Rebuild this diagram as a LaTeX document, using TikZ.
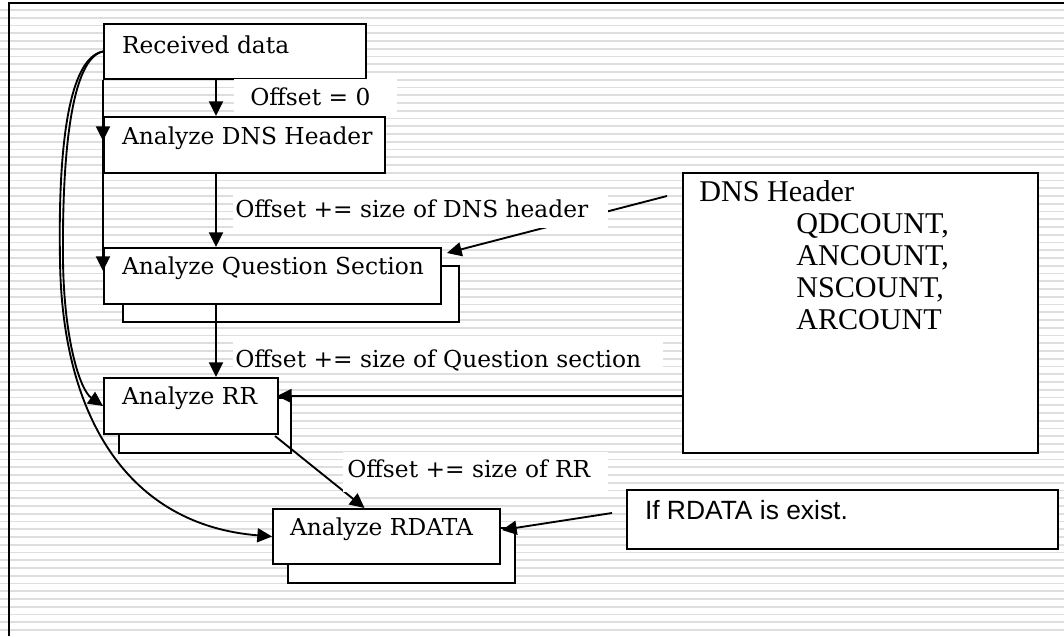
\documentclass[tikz,border=0pt]{standalone}
\usepackage{fontspec}
\setmainfont{DejaVu Serif}
\newfontfamily\timesf{Liberation Serif}
\newfontfamily\arialf{Liberation Sans}
\usetikzlibrary{arrows.meta,calc}
\newcommand{\lbox}[2]{\makebox[#1][l]{#2}}
\begin{document}
\begin{tikzpicture}[x=0.75pt,y=-0.75pt,
  stripe/.style={draw=black!13, line width=1.2pt},
  frameline/.style={line width=1.5pt},
  mainfont/.style={font=\fontsize{17.5}{21}\selectfont},
  box/.style={draw, fill=white, line width=1.5pt, anchor=north west, inner ysep=0pt, inner xsep=13.5pt, mainfont},
  shadowbox/.style={draw, fill=white, line width=1.2pt, anchor=north west, inner sep=0pt},
  arr/.style={line width=1.4pt, -{Triangle[length=11pt,width=10.5pt]}},
  lbl/.style={anchor=base west, inner sep=0pt, mainfont},
  infotext/.style={anchor=base west, inner sep=0pt, font=\timesf\fontsize{22.6}{24}\selectfont},
]
\useasboundingbox (0,0) rectangle (1064,636);
\fill[white] (0,0) rectangle (1064,636);
\foreach \i in {0,...,81} {
  \draw[stripe] (0,{10+7.75*\i}) -- (1064,{10+7.75*\i});
}
% frame
\draw[frameline] (9,636) -- (9,3) -- (1064,3);

% shadow boxes
\node[shadowbox, minimum width=252pt, minimum height=42pt] (qs2) at (122,265) {};
\node[shadowbox, minimum width=129pt, minimum height=41.25pt] (rr2) at (118,397) {};
\node[shadowbox, minimum width=170.25pt, minimum height=41.25pt] (ra2) at (287,527) {};

% main boxes
\node[box, text height=21.75pt, text depth=19.5pt] (rd) at (103,23) {\lbox{169.5pt}{Received data}};
\node[box, text height=20.25pt, text depth=21.75pt] (dh) at (103,116) {\lbox{183.75pt}{Analyze DNS Header}};
\node[box, text height=19.5pt, text depth=22.5pt] (qs) at (103,247) {\lbox{225.75pt}{Analyze Question Section}};
\node[box, text height=19.5pt, text depth=22.5pt] (rr) at (103,377) {\lbox{103.5pt}{Analyze RR}};
\node[box, text height=19.5pt, text depth=21.75pt, inner xsep=12.75pt] (ra) at (272,508) {\lbox{144.75pt}{Analyze RDATA}};

% DNS header info box
\node[draw, fill=white, line width=1.5pt, anchor=north west, minimum width=266.25pt, minimum height=210pt, inner sep=0pt] (info) at (682,172) {};
\node[infotext] (t0) at (699,201) {DNS Header};
\node[infotext] (t1) at (796,233) {QDCOUNT,};
\node[infotext] (t2) at (796,265) {ANCOUNT,};
\node[infotext] (t3) at (796,297) {NSCOUNT,};
\node[infotext] (t4) at (796,329) {ARCOUNT};

% If RDATA box
\node[box, text height=21.75pt, text depth=22.5pt, font=\arialf\fontsize{19.8}{22}\selectfont] (ifb) at (626,489) {\lbox{296.25pt}{If RDATA is exist.}};

% connectors
\coordinate (cx) at (216,0);
\draw[arr] (rd.south -| cx) -- (dh.north -| cx);
\draw[arr] (dh.south -| cx) -- (qs.north -| cx);
\draw[arr] (qs.south -| cx) -- (rr.north -| cx);
\draw[arr] ($(rr.south east)+(-4,1)$) -- ($(ra.north)+(-22,0)$);

\draw[arr] (rd.south west) -- ($(dh.north west)+(0,25)$);
\draw[arr] (rd.south west) -- ($(qs.north west)+(0,24)$);

\draw[arr] (rd.west) .. controls (72,58) and (62,150) .. (63,260)
  .. controls (64,340) and (80,390) .. (rr.west);
\draw[arr] (rd.west) .. controls (68,58) and (58,150) .. (60,260)
  .. controls (62,420) and (130,525) .. (ra.west);

\coordinate (i1) at (667,196);
\draw[arr] (i1) -- ($(qs.north east)+(5,6)$);
\draw[arr] (info.west |- 0,396) -- ($(rr.north east)+(-2,19)$);
\coordinate (i2) at (612,513);
\draw[arr] (i2) -- ($(ra.north east)+(1,22)$);

% labels
\fill[white] (234,79) rectangle (397,113);
\node[lbl] (l0) at (250,105) {Offset = 0};
\fill[white] (233,193) rectangle (608,228);
\node[lbl] (l1) at (235,217) {Offset += size of DNS header};
\fill[white] (233,342) rectangle (663,373);
\node[lbl] (l2) at (235,367) {Offset += size of Question section};
\fill[white] (343,452) rectangle (608,492);
\node[lbl] (l3) at (347,477) {Offset += size of RR};
\end{tikzpicture}
\end{document}
